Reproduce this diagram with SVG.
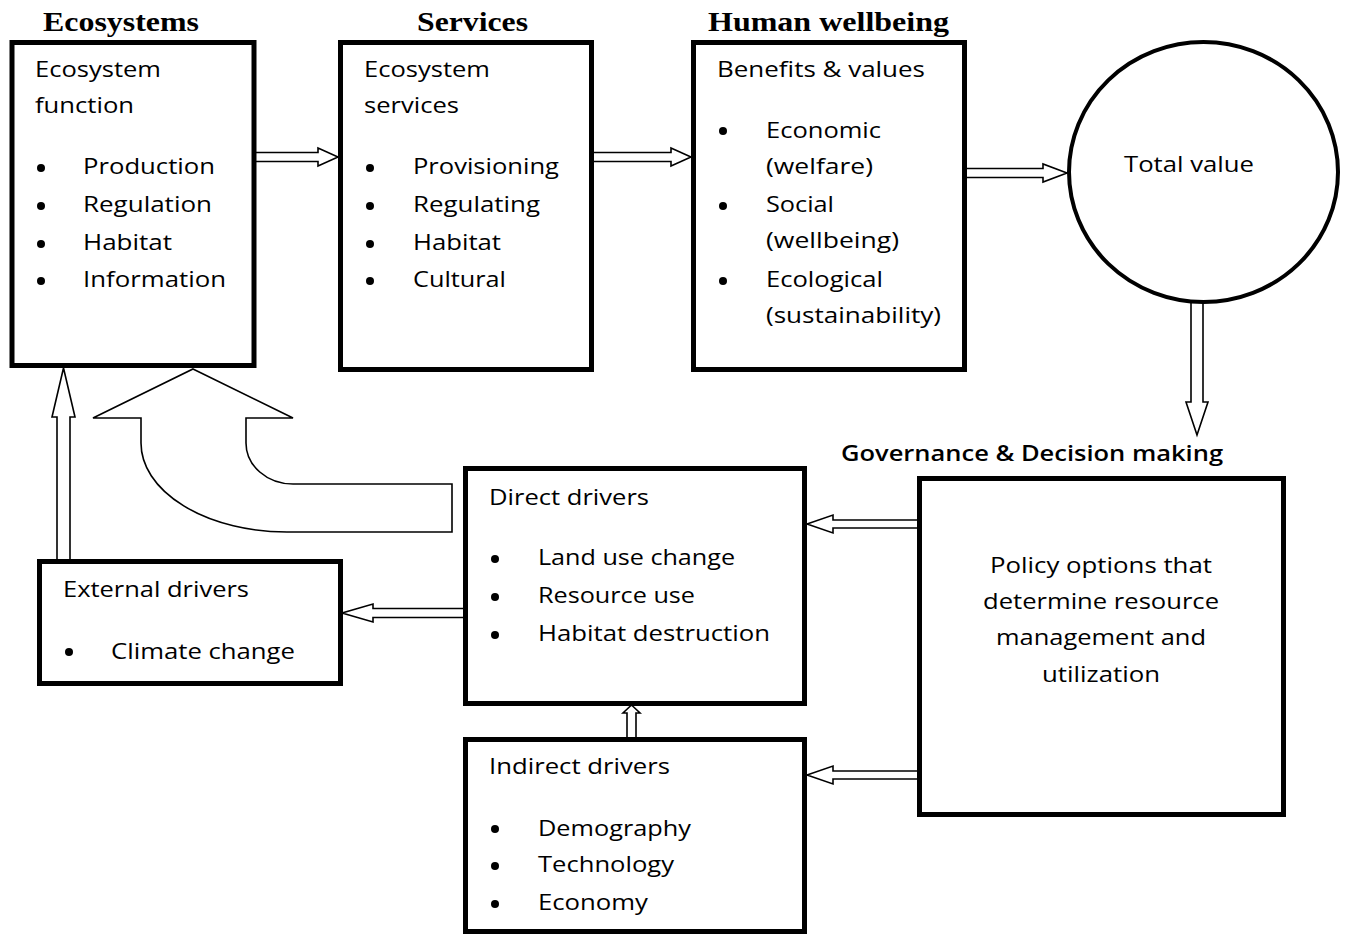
<svg xmlns="http://www.w3.org/2000/svg" width="1345" height="934" viewBox="0 0 1345 934">
<style>
.box{fill:#fff;stroke:#000;stroke-width:5}
.arr{fill:#fff;stroke:#000;stroke-width:1.6;stroke-linejoin:miter}
.h{font-family:"Liberation Serif","Times New Roman",serif;font-weight:bold;font-size:27px;fill:#000}
.t{font-family:"Open Sans","Liberation Sans",sans-serif;font-size:22px;fill:#000}
.g{font-family:"Open Sans","Liberation Sans",sans-serif;font-weight:600;font-size:22px;fill:#000}
</style>
<rect width="1345" height="934" fill="#fff"/>
<g id="headings">
<text class="h" x="43" y="31" textLength="156" lengthAdjust="spacingAndGlyphs">Ecosystems</text>
<text class="h" x="417" y="31" textLength="111" lengthAdjust="spacingAndGlyphs">Services</text>
<text class="h" x="708" y="31" textLength="241" lengthAdjust="spacingAndGlyphs">Human wellbeing</text>
<text class="g" x="841" y="461" textLength="382" lengthAdjust="spacingAndGlyphs">Governance &amp; Decision making</text>
</g>
<g id="connectors">
<polygon class="arr" points="255,152.5 318,152.5 318,148 338,157 318,166 318,161.5 255,161.5"/>
<polygon class="arr" points="592,152.5 671,152.5 671,148 691,157 671,166 671,161.5 592,161.5"/>
<polygon class="arr" points="965,168.5 1043,168.5 1043,164 1067,173 1043,182 1043,177.5 965,177.5"/>
<polygon class="arr" points="1191,302 1191,402 1186,402 1197,435 1208,402 1203,402 1203,302"/>
<polygon class="arr" points="57,561 57,417 52,417 63.5,368 75,417 70,417 70,561"/>
<polygon class="arr" points="465,608.5 373,608.5 373,604 342,613 373,622 373,617.5 465,617.5"/>
<polygon class="arr" points="919,520 833,520 833,515 807,524 833,533 833,528 919,528"/>
<polygon class="arr" points="919,771 833,771 833,766 807,775 833,784 833,779 919,779"/>
<polygon class="arr" points="627,738 627,713 623,713 631.5,705 640,713 636,713 636,738"/>
<path class="arr" d="M193,369 L293,418 L246,418 L246,443 A47,41 0 0 0 293,484 L452,484 L452,532 L287,532 A146,89 0 0 1 141,443 L141,418 L93,418 Z"/>
</g>
<g id="node-ecosystem-function">
<rect class="box" x="12" y="42.5" width="242" height="323"/>
<text class="t" x="35" y="77" textLength="126" lengthAdjust="spacingAndGlyphs">Ecosystem</text>
<text class="t" x="35" y="113" textLength="99" lengthAdjust="spacingAndGlyphs">function</text>
<circle cx="41" cy="168" r="4"/><circle cx="41" cy="206" r="4"/><circle cx="41" cy="244" r="4"/><circle cx="41" cy="281" r="4"/>
<text class="t" x="83" y="174" textLength="132" lengthAdjust="spacingAndGlyphs">Production</text>
<text class="t" x="83" y="212" textLength="129" lengthAdjust="spacingAndGlyphs">Regulation</text>
<text class="t" x="83" y="250" textLength="89" lengthAdjust="spacingAndGlyphs">Habitat</text>
<text class="t" x="83" y="287" textLength="143" lengthAdjust="spacingAndGlyphs">Information</text>
</g>
<g id="node-ecosystem-services">
<rect class="box" x="340.5" y="42.5" width="251" height="327"/>
<text class="t" x="364" y="77" textLength="126" lengthAdjust="spacingAndGlyphs">Ecosystem</text>
<text class="t" x="364" y="113" textLength="95" lengthAdjust="spacingAndGlyphs">services</text>
<circle cx="370" cy="168" r="4"/><circle cx="370" cy="206" r="4"/><circle cx="370" cy="244" r="4"/><circle cx="370" cy="281" r="4"/>
<text class="t" x="413" y="174" textLength="146" lengthAdjust="spacingAndGlyphs">Provisioning</text>
<text class="t" x="413" y="212" textLength="127" lengthAdjust="spacingAndGlyphs">Regulating</text>
<text class="t" x="413" y="250" textLength="88" lengthAdjust="spacingAndGlyphs">Habitat</text>
<text class="t" x="413" y="287" textLength="93" lengthAdjust="spacingAndGlyphs">Cultural</text>
</g>
<g id="node-benefits-values">
<rect class="box" x="693.5" y="42.5" width="271" height="327"/>
<text class="t" x="717" y="77" textLength="208" lengthAdjust="spacingAndGlyphs">Benefits &amp; values</text>
<circle cx="723" cy="131" r="4"/><circle cx="723" cy="206" r="4"/><circle cx="723" cy="281" r="4"/>
<text class="t" x="766" y="138" textLength="115" lengthAdjust="spacingAndGlyphs">Economic</text>
<text class="t" x="766" y="174" textLength="107" lengthAdjust="spacingAndGlyphs">(welfare)</text>
<text class="t" x="766" y="212" textLength="68" lengthAdjust="spacingAndGlyphs">Social</text>
<text class="t" x="766" y="248" textLength="133" lengthAdjust="spacingAndGlyphs">(wellbeing)</text>
<text class="t" x="766" y="287" textLength="117" lengthAdjust="spacingAndGlyphs">Ecological</text>
<text class="t" x="766" y="323" textLength="175" lengthAdjust="spacingAndGlyphs">(sustainability)</text>
</g>
<g id="node-total-value">
<ellipse cx="1203.5" cy="172" rx="134.5" ry="130" fill="#fff" stroke="#000" stroke-width="4"/>
<text class="t" x="1124" y="172" textLength="130" lengthAdjust="spacingAndGlyphs">Total value</text>
</g>
<g id="node-policy">
<rect class="box" x="919.5" y="478.5" width="364" height="336"/>
<text class="t" x="990" y="573" textLength="222" lengthAdjust="spacingAndGlyphs">Policy options that</text>
<text class="t" x="983" y="609" textLength="236" lengthAdjust="spacingAndGlyphs">determine resource</text>
<text class="t" x="996" y="645" textLength="210" lengthAdjust="spacingAndGlyphs">management and</text>
<text class="t" x="1042" y="682" textLength="118" lengthAdjust="spacingAndGlyphs">utilization</text>
</g>
<g id="node-direct-drivers">
<rect class="box" x="465.5" y="468.5" width="339" height="235"/>
<text class="t" x="489" y="505" textLength="160" lengthAdjust="spacingAndGlyphs">Direct drivers</text>
<circle cx="495" cy="559" r="4"/><circle cx="495" cy="597" r="4"/><circle cx="495" cy="635" r="4"/>
<text class="t" x="538" y="565" textLength="197" lengthAdjust="spacingAndGlyphs">Land use change</text>
<text class="t" x="538" y="603" textLength="157" lengthAdjust="spacingAndGlyphs">Resource use</text>
<text class="t" x="538" y="641" textLength="232" lengthAdjust="spacingAndGlyphs">Habitat destruction</text>
</g>
<g id="node-external-drivers">
<rect class="box" x="39.5" y="561.5" width="301" height="122"/>
<text class="t" x="63" y="597" textLength="186" lengthAdjust="spacingAndGlyphs">External drivers</text>
<circle cx="69" cy="652" r="4"/>
<text class="t" x="111" y="659" textLength="184" lengthAdjust="spacingAndGlyphs">Climate change</text>
</g>
<g id="node-indirect-drivers">
<rect class="box" x="465.5" y="739.5" width="339" height="192"/>
<text class="t" x="489" y="774" textLength="181" lengthAdjust="spacingAndGlyphs">Indirect drivers</text>
<circle cx="495" cy="829" r="4"/><circle cx="495" cy="866" r="4"/><circle cx="495" cy="904" r="4"/>
<text class="t" x="538" y="836" textLength="153" lengthAdjust="spacingAndGlyphs">Demography</text>
<text class="t" x="538" y="872" textLength="136" lengthAdjust="spacingAndGlyphs">Technology</text>
<text class="t" x="538" y="910" textLength="110" lengthAdjust="spacingAndGlyphs">Economy</text>
</g>
</svg>
